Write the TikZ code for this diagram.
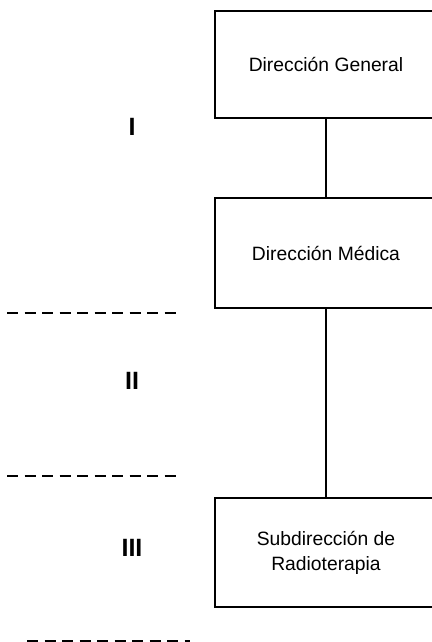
\documentclass[tikz,border=0pt]{standalone}
\usepackage{fontspec}
\setmainfont{Liberation Sans}
\tikzset{
  unit/.style={draw,line width=1.6pt,minimum width=222pt,inner sep=0pt,align=center,
    font=\fontsize{19.3}{25}\selectfont},
  level/.style={font=\fontsize{25}{25}\selectfont\bfseries},
  sep/.style={line width=1.8pt,dash pattern=on 11pt off 6.5pt}
}
\begin{document}
\begin{tikzpicture}[x=1pt,y=-1pt,line width=1.6pt]
\useasboundingbox (0,0) rectangle (431,642);
\node[unit,minimum height=107pt] (gen) at (326,64.5) {Dirección General};
\node[unit,minimum height=110pt] (med) at (326,253) {Dirección Médica};
\node[unit,minimum height=109pt] (rad) at (326,552.5) {Subdirección de\\Radioterapia};
\draw (gen.south)--(med.north); \draw (med.south)--(rad.north);
\node[level] (n1) at (132,127) {I};
\node[level] (n2) at (132,381) {II};
\node[level] (n3) at (132,548) {III};
\draw[sep] (7,313)--(176,313);
\draw[sep,line width=1.3pt] (7,476)--(176,476);
\draw[sep,line width=3pt] (27,641)--(190,641);
\end{tikzpicture}
\end{document}
